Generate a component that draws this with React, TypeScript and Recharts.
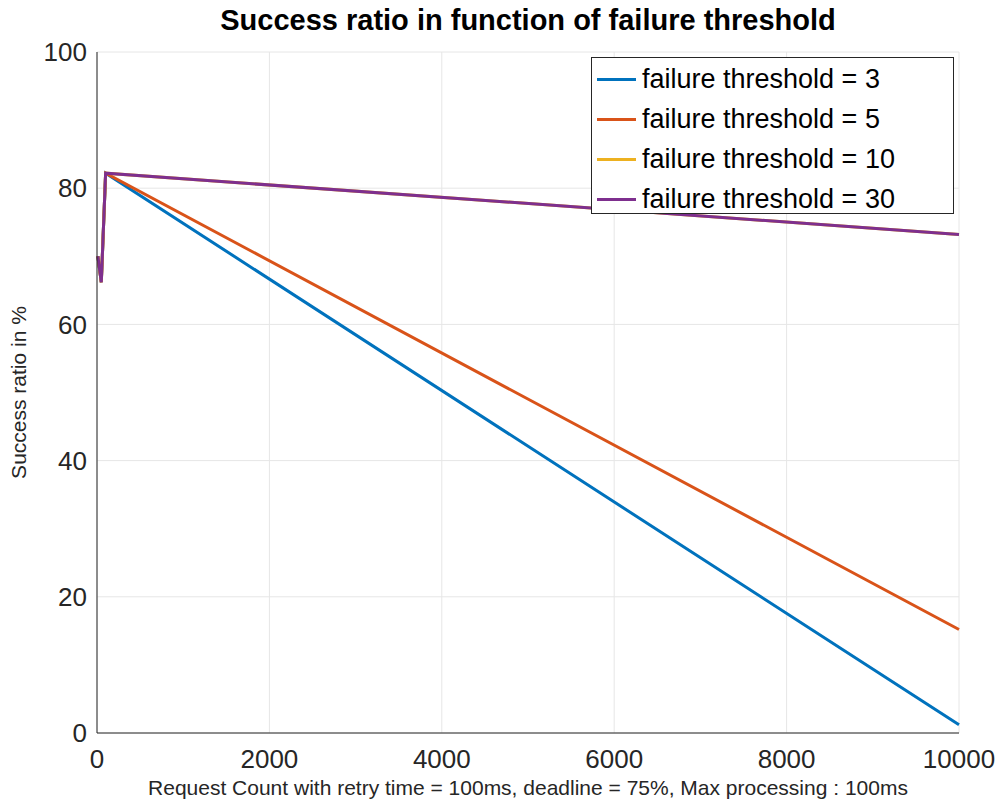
import React from 'react';
import { CartesianGrid, Label, Line, LineChart, XAxis, YAxis } from 'recharts';

const requestCounts = [10, 50, 100, 10000];
const threshold3 = [70, 66.2, 82.2, 1.2];
const threshold5 = [70, 66.2, 82.2, 15.2];
const threshold10 = [70, 66.2, 82.2, 73.2];
const threshold30 = [70, 66.2, 82.2, 73.2];
const xTicks = [0, 2000, 4000, 6000, 8000, 10000];
const yTicks = [0, 20, 40, 60, 80, 100];

const series = [
	{ key: 't3', name: 'failure threshold = 3', values: threshold3, color: '#0072BD' },
	{ key: 't5', name: 'failure threshold = 5', values: threshold5, color: '#D95319' },
	{ key: 't10', name: 'failure threshold = 10', values: threshold10, color: '#EDB120' },
	{ key: 't30', name: 'failure threshold = 30', values: threshold30, color: '#7E2F8E' },
];

const data = requestCounts.map((x, i) => {
	const row: Record<string, number> = { x };
	series.forEach((s) => {
		row[s.key] = s.values[i];
	});
	return row;
});

const font = '"Liberation Sans", Arial, Helvetica, sans-serif';

// legend drawn as an overlay so it doesn't shrink the plot area
const LegendBox = () => (
	<div
		style={{
			position: 'absolute',
			left: 591,
			top: 57,
			width: 361,
			height: 154,
			border: '1px solid #262626',
			background: '#fff',
			fontFamily: font,
			fontSize: 27,
			color: '#000',
			paddingTop: 1,
			boxSizing: 'content-box',
		}}
	>
		{series.map((s) => (
			<div key={s.key} style={{ display: 'flex', alignItems: 'center', height: 40, lineHeight: '40px' }}>
				<div style={{ width: 39, height: 3, background: s.color, marginLeft: 5, marginRight: 6 }} />
				<span>{s.name}</span>
			</div>
		))}
	</div>
);

export default function App() {
	return (
		<div style={{ position: 'absolute', left: 0, top: 0, width: 1000, height: 802, background: '#fff' }}>
			<div
				style={{
					position: 'absolute',
					left: 97,
					width: 862,
					top: 4,
					textAlign: 'center',
					fontFamily: font,
					fontWeight: 'bold',
					fontSize: 29,
					color: '#000',
				}}
			>
				Success ratio in function of failure threshold
			</div>
			<LineChart
				width={1000}
				height={802}
				data={data}
				margin={{ top: 52, right: 41, left: 47, bottom: 29 }}
				style={{ fontFamily: font }}
			>
				<CartesianGrid stroke="#e6e6e6" strokeWidth={1} />
				<XAxis
					dataKey="x"
					type="number"
					domain={[0, 10000]}
					ticks={xTicks}
					height={40}
					tickSize={0}
					tickMargin={17}
					stroke="#262626"
					tick={{ fill: '#262626', fontSize: 26 }}
					interval={0}
				>
					<Label
						value="Request Count with retry time = 100ms, deadline = 75%, Max processing : 100ms"
						position="insideBottom"
						offset={-22}
						style={{ fill: '#262626', fontSize: 21 }}
					/>
				</XAxis>
				<XAxis xAxisId="top" dataKey="x" type="number" domain={[0, 10000]} orientation="top" height={0} tick={false} tickLine={false} stroke="#262626" />
				<YAxis
					type="number"
					domain={[0, 100]}
					ticks={yTicks}
					width={50}
					tickSize={0}
					tickMargin={10}
					stroke="#262626"
					tick={{ fill: '#262626', fontSize: 26 }}
					interval={0}
				>
					<Label
						value="Success ratio in %"
						angle={-90}
						position="insideLeft"
						offset={-28}
						style={{ textAnchor: 'middle', fill: '#262626', fontSize: 21 }}
					/>
				</YAxis>
				<YAxis yAxisId="right" orientation="right" domain={[0, 100]} width={0} tick={false} tickLine={false} stroke="#262626" />
				{series.map((s) => (
					<Line
						key={s.key}
						type="linear"
						dataKey={s.key}
						name={s.name}
						stroke={s.color}
						strokeWidth={3}
						dot={false}
						isAnimationActive={false}
					/>
				))}
			</LineChart>
			<LegendBox />
		</div>
	);
}
